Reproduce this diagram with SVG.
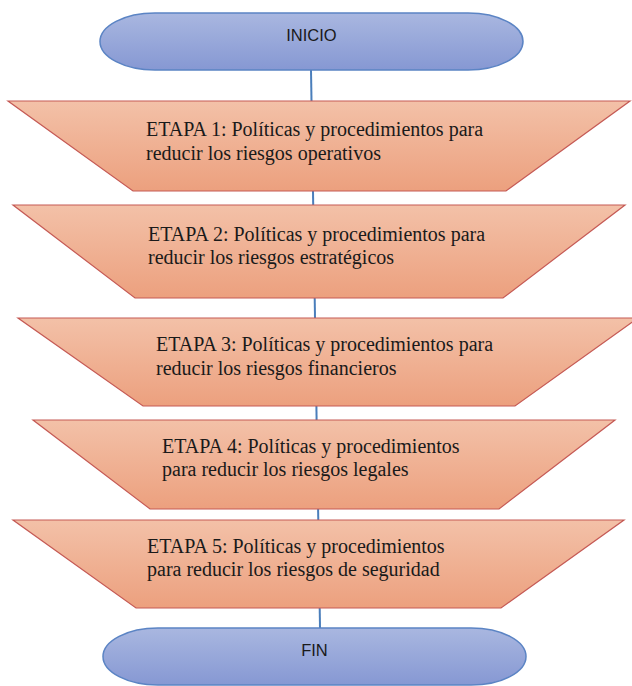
<svg xmlns="http://www.w3.org/2000/svg" width="632" height="686" viewBox="0 0 632 686">
<defs>
<linearGradient id="gOrange" x1="0" y1="0" x2="0" y2="1">
<stop offset="0" stop-color="#F3C1A8"/>
<stop offset="1" stop-color="#ECA07E"/>
</linearGradient>
<linearGradient id="gBlue" x1="0" y1="0" x2="0" y2="1">
<stop offset="0" stop-color="#A9B7E0"/>
<stop offset="1" stop-color="#8698D3"/>
</linearGradient>
<style>
.trap{fill:url(#gOrange);stroke:#C55A55;stroke-width:1.2}
.term{fill:url(#gBlue);stroke:#5B84C4;stroke-width:1.5}
.st{font-family:"Liberation Serif","Times New Roman",serif;font-size:20px;fill:#1a1a1a}
.tt{font-family:"Liberation Sans",Arial,sans-serif;font-size:16.5px;fill:#1a1a1a;text-anchor:middle}
.conn{stroke:#4A7EBB;stroke-width:2;fill:none}
</style>
</defs>
<rect width="632" height="686" fill="#ffffff"/>
<g id="connectors">
<line class="conn" x1="311" y1="70" x2="311.5" y2="101"/>
<line class="conn" x1="313" y1="191" x2="313.2" y2="205"/>
<line class="conn" x1="314.7" y1="298" x2="315" y2="318"/>
<line class="conn" x1="316.4" y1="406" x2="316.6" y2="420"/>
<line class="conn" x1="318.1" y1="509" x2="318.3" y2="520"/>
<line class="conn" x1="319.7" y1="608" x2="320" y2="628"/>
</g>
<g id="inicio">
<rect class="term" x="100" y="13" width="423" height="57" rx="55" ry="28.5"/>
<text class="tt" x="311.5" y="41">INICIO</text>
</g>
<g id="etapa1">
<polygon class="trap" points="8,101 630,101 506,191 133,191"/>
<text class="st" x="146" y="136">ETAPA 1: Políticas y procedimientos para</text>
<text class="st" x="146" y="160">reducir los riesgos operativos</text>
</g>
<g id="etapa2">
<polygon class="trap" points="13,205 625,205 503,298 135,298"/>
<text class="st" x="148" y="241">ETAPA 2: Políticas y procedimientos para</text>
<text class="st" x="148" y="264">reducir los riesgos estratégicos</text>
</g>
<g id="etapa3">
<polygon class="trap" points="18,318 638,318 515,406 143,406"/>
<text class="st" x="156" y="351">ETAPA 3: Políticas y procedimientos para</text>
<text class="st" x="156" y="375">reducir los riesgos financieros</text>
</g>
<g id="etapa4">
<polygon class="trap" points="33,420 615,420 499,509 150,509"/>
<text class="st" x="162" y="453">ETAPA 4: Políticas y procedimientos</text>
<text class="st" x="162" y="476">para reducir los riesgos legales</text>
</g>
<g id="etapa5">
<polygon class="trap" points="13,520 624,520 501,608 136,608"/>
<text class="st" x="147" y="553">ETAPA 5: Políticas y procedimientos</text>
<text class="st" x="147" y="576">para reducir los riesgos de seguridad</text>
</g>
<g id="fin">
<rect class="term" x="103" y="628" width="423" height="57" rx="55" ry="28.5"/>
<text class="tt" x="314.5" y="656">FIN</text>
</g>
</svg>
